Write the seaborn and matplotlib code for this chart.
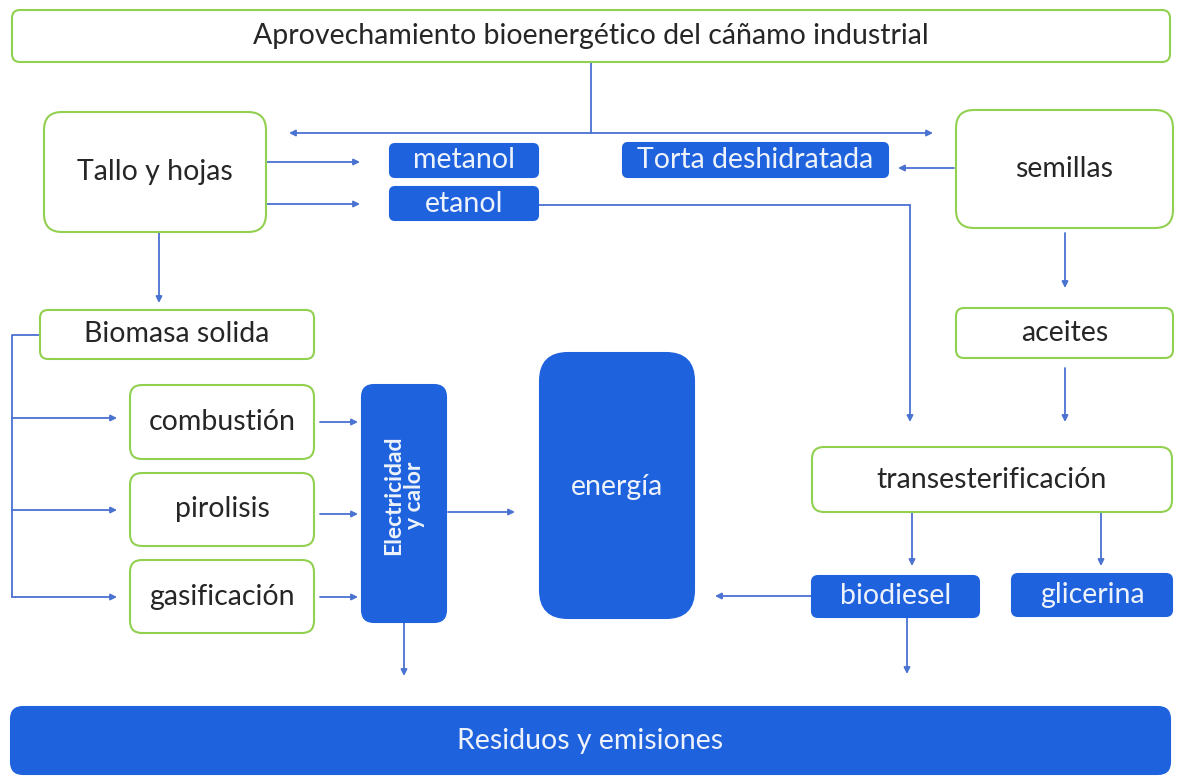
import matplotlib.pyplot as plt
import seaborn as sns
from matplotlib.patches import FancyBboxPatch

sns.set_theme(style="white")
plt.rcParams['font.family'] = ['Lato', 'DejaVu Sans']

# textos del diagrama
titulo = 'Aprovechamiento bioenergético del cáñamo industrial'
nodos_blancos = ['Tallo y hojas', 'semillas', 'Biomasa solida', 'combustión',
                 'pirolisis', 'gasificación', 'aceites', 'transesterificación']
nodos_azules = ['metanol', 'etanol', 'Torta deshidratada', 'biodiesel',
                'glicerina', 'energía', 'Residuos y emisiones']
nodo_vertical = 'Electricidad\ny calor'

# posiciones (x0, y0, x1, y1, radio) en pixeles
caja = {
    titulo: (12, 10, 1170, 62, 8),
    'Tallo y hojas': (44, 112, 266, 232, 18),
    'semillas': (956, 110, 1173, 228, 18),
    'Biomasa solida': (40, 310, 314, 359, 8),
    'combustión': (130, 385, 314, 459, 12),
    'pirolisis': (130, 473, 314, 546, 12),
    'gasificación': (130, 560, 314, 633, 12),
    'aceites': (956, 308, 1173, 358, 8),
    'transesterificación': (812, 447, 1172, 512, 12),
    'metanol': (390, 144, 538, 177, 5),
    'etanol': (390, 187, 538, 220, 5),
    'Torta deshidratada': (623, 143, 888, 177, 5),
    'biodiesel': (812, 576, 979, 617, 6),
    'glicerina': (1012, 574, 1172, 616, 6),
    'energía': (540, 353, 694, 618, 28),
    'Residuos y emisiones': (11, 707, 1170, 774, 12),
    nodo_vertical: (362, 385, 446, 622, 12),
}
centro_texto = {'energía': (617, 487)}

# conectores (el ultimo tramo lleva flecha)
conectores = [
    [(591, 62), (591, 133), (289, 133)],
    [(591, 133), (933, 133)],
    [(266, 162), (360, 162)],
    [(266, 204), (360, 204)],
    [(538, 205), (910, 205), (910, 422)],
    [(954, 168), (898, 168)],
    [(1065, 233), (1065, 288)],
    [(1065, 368), (1065, 422)],
    [(159, 232), (159, 303)],
    [(40, 335), (12, 335), (12, 418), (117, 418)],
    [(12, 418), (12, 510), (117, 510)],
    [(12, 510), (12, 597), (117, 597)],
    [(320, 422), (358, 422)],
    [(320, 514), (358, 514)],
    [(320, 597), (358, 597)],
    [(448, 512), (515, 512)],
    [(404, 622), (404, 676)],
    [(912, 512), (912, 566)],
    [(1101, 512), (1101, 566)],
    [(812, 596), (715, 596)],
    [(907, 617), (907, 674)],
]

verde = '#92d050'
azul = '#1f62de'
linea = '#4a72d0'

fig = plt.figure(figsize=(11.78, 7.76), dpi=100)
ax = fig.add_axes([0, 0, 1, 1])
ax.set_xlim(0, 1178)
ax.set_ylim(776, 0)
ax.axis('off')

for nombre, (x0, y0, x1, y1, r) in caja.items():
    es_azul = nombre in nodos_azules or nombre == nodo_vertical
    ax.add_patch(FancyBboxPatch((x0, y0), x1 - x0, y1 - y0,
                                boxstyle=f'round,pad=0,rounding_size={r}',
                                fc=azul if es_azul else 'white',
                                ec=azul if es_azul else verde,
                                lw=1.5, zorder=2))
    cx, cy = centro_texto.get(nombre, ((x0 + x1) / 2, (y0 + y1) / 2))
    if nombre == nodo_vertical:
        ax.text(cx, cy - 8, nombre, rotation=90, ha='center', va='center',
                multialignment='center', color='#eef3fb', fontsize=16.5,
                fontweight='bold', linespacing=1.0, zorder=3)
    else:
        ax.text(cx, cy, nombre, ha='center', va='center',
                color='#eef3fb' if es_azul else '#262626',
                fontsize=20.5, zorder=3)

for pts in conectores:
    xs = [p[0] for p in pts]
    ys = [p[1] for p in pts]
    ax.plot(xs[:-1], ys[:-1], color=linea, lw=1.3, zorder=1)
    ax.annotate('', xy=pts[-1], xytext=pts[-2],
                arrowprops=dict(arrowstyle='-|>', color=linea, lw=1.3,
                                mutation_scale=9, shrinkA=0, shrinkB=0),
                zorder=1)

fig.savefig('out.png', dpi=100)
